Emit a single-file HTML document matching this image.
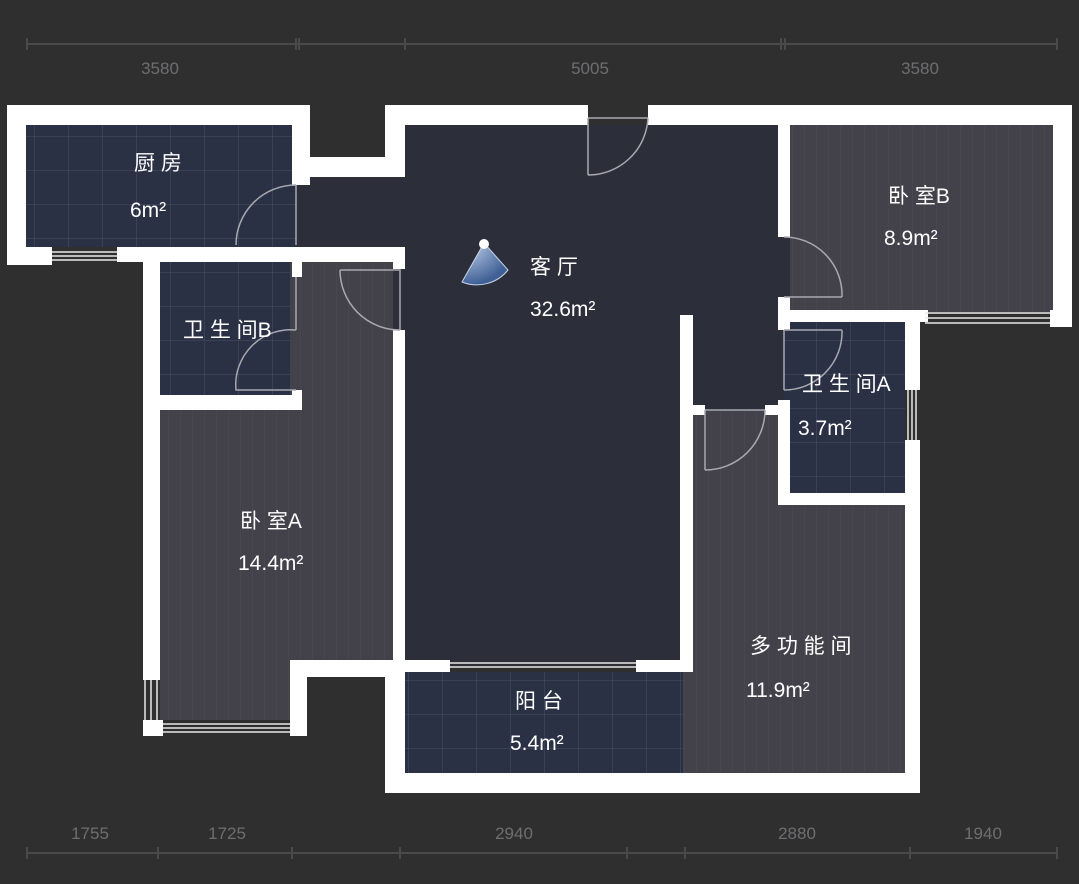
<!DOCTYPE html>
<html><head><meta charset="utf-8"><style>
html,body{margin:0;padding:0;background:#2f2f30;}
svg{display:block}
text{font-family:"Liberation Sans","Noto Sans CJK SC",sans-serif;}
</style></head><body>
<svg width="1079" height="884" viewBox="0 0 1079 884" xmlns="http://www.w3.org/2000/svg">
<defs>
<pattern id="tile" width="34" height="34" patternUnits="userSpaceOnUse">
<rect width="34" height="34" fill="#2b3145"/>
<path d="M0 0H34M0 0V34" stroke="#4a5068" stroke-width="1"/>
</pattern>
<pattern id="wood" width="12" height="40" patternUnits="userSpaceOnUse">
<rect width="12" height="40" fill="#43424b"/>
<path d="M0 0V40" stroke="#4d4c55" stroke-width="1"/>
</pattern>
<radialGradient id="cam" cx="0.1" cy="0" r="1">
<stop offset="0" stop-color="#c8d8f0"/><stop offset="1" stop-color="#3f5f95"/>
</radialGradient>
</defs>
<rect width="1079" height="884" fill="#2f2f30"/>

<g stroke="#4a4a4b" stroke-width="2" fill="none">
<path d="M27 44H1057"/>
<path d="M27 38V50M296 38V50M299 38V50M405 38V50M781 38V50M785 38V50M1057 38V50"/>
<path d="M27 853H1057"/>
<path d="M27 847V859M158 847V859M292 847V859M400 847V859M627 847V859M685 847V859M910 847V859M1057 847V859"/>
</g>
<g fill="#6e6e70" font-size="17" text-anchor="middle">
<text x="160" y="74">3580</text><text x="590" y="74">5005</text><text x="920" y="74">3580</text>
<text x="90" y="839">1755</text><text x="227" y="839">1725</text><text x="514" y="839">2940</text><text x="797" y="839">2880</text><text x="983" y="839">1940</text>
</g>

<!-- floors -->
<rect x="26" y="125" width="274" height="122" fill="url(#tile)"/>
<rect x="296" y="177" width="104" height="72" fill="#2c2f3a"/>
<rect x="393" y="125" width="397" height="540" fill="#2c2f3a"/>
<rect x="680" y="125" width="100" height="285" fill="#2c2f3a"/>
<rect x="790" y="125" width="263" height="187" fill="url(#wood)"/>
<rect x="160" y="262" width="132" height="133" fill="url(#tile)"/>
<rect x="160" y="408" width="140" height="312" fill="url(#wood)"/>
<rect x="290" y="262" width="103" height="400" fill="url(#wood)"/>
<rect x="683" y="410" width="100" height="365" fill="url(#wood)"/>
<rect x="683" y="500" width="222" height="275" fill="url(#wood)"/>
<rect x="784" y="322" width="121" height="171" fill="url(#tile)"/>
<rect x="405" y="672" width="278" height="101" fill="url(#tile)"/>

<!-- walls -->
<g fill="#ffffff">
<rect x="7" y="105" width="303" height="20"/>
<rect x="7" y="105" width="19" height="160"/>
<rect x="292" y="105" width="18" height="80"/>
<rect x="292" y="157" width="113" height="20"/>
<rect x="385" y="105" width="20" height="72"/>
<rect x="385" y="105" width="203" height="20"/>
<rect x="648" y="105" width="424" height="20"/>
<rect x="1053" y="105" width="19" height="222"/>
<rect x="7" y="247" width="45" height="18"/>
<rect x="117" y="247" width="288" height="15"/>
<rect x="143" y="253" width="17" height="427"/>
<rect x="143" y="720" width="20" height="16"/>
<rect x="290" y="720" width="17" height="16"/>
<rect x="290" y="660" width="17" height="76"/>
<rect x="290" y="660" width="115" height="17"/>
<rect x="292" y="247" width="10" height="30"/>
<rect x="292" y="390" width="10" height="20"/>
<rect x="143" y="395" width="159" height="15"/>
<rect x="393" y="247" width="12" height="22"/>
<rect x="393" y="330" width="12" height="335"/>
<rect x="778" y="105" width="12" height="132"/>
<rect x="778" y="297" width="12" height="33"/>
<rect x="778" y="310" width="150" height="12"/>
<rect x="1050" y="310" width="22" height="17"/>
<rect x="905" y="310" width="15" height="80"/>
<rect x="905" y="440" width="15" height="350"/>
<rect x="778" y="400" width="12" height="105"/>
<rect x="778" y="493" width="142" height="12"/>
<rect x="680" y="315" width="13" height="350"/>
<rect x="680" y="405" width="25" height="10"/>
<rect x="765" y="405" width="25" height="10"/>
<rect x="405" y="660" width="45" height="12"/>
<rect x="636" y="660" width="57" height="12"/>
<rect x="385" y="660" width="20" height="133"/>
<rect x="385" y="773" width="535" height="20"/>
</g>

<g stroke="#e8e8e8" stroke-width="1.5" fill="none">
<path d="M52 252H117M52 256H117M52 260H117"/>
<path d="M145 680V720M151 680V720M157 680V720"/>
<path d="M163 724H290M163 728H290M163 732H290"/>
<path d="M925 313H1050M925 318H1050M925 323H1050"/>
<path d="M908 390V440M912 390V440M916 390V440"/>
<path d="M450 663H636M450 667H636"/>
</g>

<g stroke="#a8a8b0" stroke-width="1.5" fill="none">
<path d="M296 185V245M296 185A60 60 0 0 0 236 245"/>
<path d="M296 277V330M296 330A55 55 0 0 0 236 390H296"/>
<path d="M340 270H400V330M340 270A60 60 0 0 0 400 330"/>
<path d="M588 118V175M648 118H588M648 118A60 60 0 0 1 588 175"/>
<path d="M784 297H842M784 237A58 58 0 0 1 842 297"/>
<path d="M784 330H842M784 330V390M842 330A58 58 0 0 1 784 390"/>
<path d="M705 410V470M705 410H765M765 410A60 60 0 0 1 705 470"/>
</g>

<path d="M484 243 L462 282 A40 40 0 0 0 508 270 Z" fill="url(#cam)" stroke="#c8d4ea" stroke-width="1"/>
<circle cx="484" cy="244" r="5" fill="#fff"/>

<g fill="#ffffff" font-size="21">
<text x="134" y="170">厨 房</text>
<text x="130" y="217">6m²</text>
<text x="530" y="274">客 厅</text>
<text x="530" y="316">32.6m²</text>
<text x="888" y="203">卧 室B</text>
<text x="884" y="245">8.9m²</text>
<text x="183" y="337">卫 生 间B</text>
<text x="802" y="391">卫 生 间A</text>
<text x="798" y="435">3.7m²</text>
<text x="240" y="528">卧 室A</text>
<text x="238" y="570">14.4m²</text>
<text x="750" y="653">多 功 能 间</text>
<text x="746" y="697">11.9m²</text>
<text x="515" y="708">阳 台</text>
<text x="510" y="750">5.4m²</text>
</g>
</svg>
</body></html>
